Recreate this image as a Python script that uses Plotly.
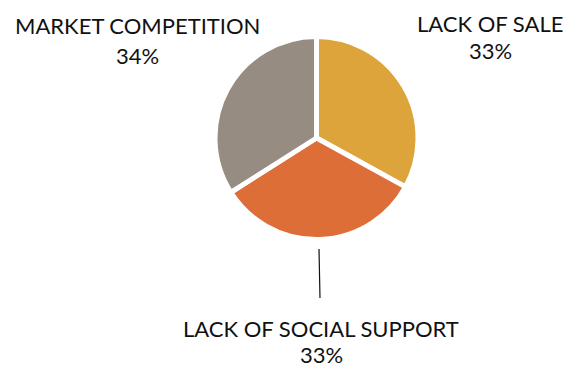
import plotly.graph_objects as go

categories = ["LACK OF SALE", "LACK OF SOCIAL SUPPORT", "MARKET COMPETITION"]
values = [33, 33, 34]
colors = ["#DCA43A", "#DE6E38", "#968C81"]
halo_colors = ["#F3DDB5", "#F5CDB8", "#DAD5D0"]

W, H = 570, 369
cx, cy, r = 316.5, 138.0, 103

def dom(rad):
    return dict(x=[(cx - rad) / W, (cx + rad) / W],
                y=[1 - (cy + rad) / H, 1 - (cy - rad) / H])

fig = go.Figure()
fig.add_trace(go.Pie(
    labels=categories, values=values, sort=False, direction="clockwise",
    rotation=0, domain=dom(r + 1), textinfo="none", hoverinfo="skip",
    marker=dict(colors=halo_colors, line=dict(color="white", width=6)),
    showlegend=False,
))
fig.add_trace(go.Pie(
    labels=categories, values=values, sort=False, direction="clockwise",
    rotation=0, domain=dom(r - 1.5), textinfo="none",
    marker=dict(colors=colors, line=dict(color="white", width=5)),
    showlegend=False,
))

total = sum(values)
pct = [f"{round(v / total * 100)}%" for v in values]
# (center x, label line center y, percent line center y)
label_pos = [(490, 23, 51), (321, 328, 354), (137, 26, 56)]
font = dict(family="Lato, 'DejaVu Sans', sans-serif", size=22, color="#111111")
for cat, p, (lx, ly1, ly2) in zip(categories, pct, label_pos):
    for txt, ly in ((cat, ly1), (p, ly2)):
        fig.add_annotation(x=lx / W, y=1 - ly / H, xref="paper", yref="paper",
                           text=txt, showarrow=False, font=font,
                           align="center", xanchor="center", yanchor="middle")

fig.add_shape(type="line", xref="paper", yref="paper",
              x0=319 / W, y0=1 - 249 / H, x1=320 / W, y1=1 - 298 / H,
              line=dict(color="#111111", width=1.2))

fig.update_layout(width=W, height=H, margin=dict(l=0, r=0, t=0, b=0),
                  paper_bgcolor="white", plot_bgcolor="white")
fig.write_html("out.html")
